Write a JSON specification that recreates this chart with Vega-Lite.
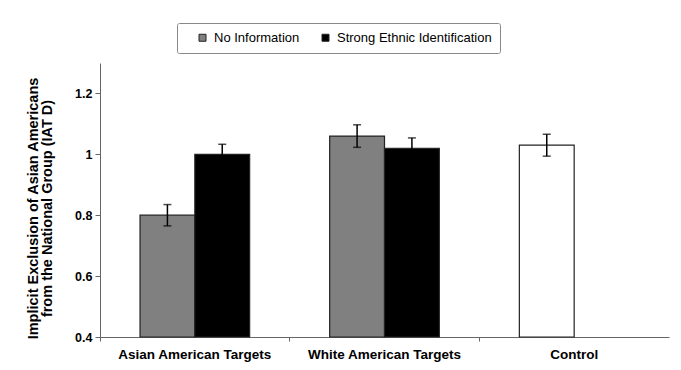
{
  "$schema": "https://vega.github.io/schema/vega-lite/v6.json",
  "autosize": {"type": "none"},
  "padding": {"left": 100, "top": 63, "right": 12, "bottom": 33},
  "width": 569,
  "height": 274,
  "background": "white",
  "config": {"view": {"stroke": null}, "font": "Liberation Sans"},
  "data": {
    "values": [
      {"target": "Asian American Targets", "condition": "No Information", "mean": 0.80, "lo": 0.765, "hi": 0.835},
      {"target": "Asian American Targets", "condition": "Strong Ethnic Identification", "mean": 1.00, "lo": 0.967, "hi": 1.033},
      {"target": "White American Targets", "condition": "No Information", "mean": 1.06, "lo": 1.023, "hi": 1.097},
      {"target": "White American Targets", "condition": "Strong Ethnic Identification", "mean": 1.02, "lo": 0.986, "hi": 1.054},
      {"target": "Control", "condition": "No Information", "mean": 1.03, "lo": 0.994, "hi": 1.066}
    ]
  },
  "encoding": {
    "x": {
      "field": "target",
      "type": "nominal",
      "sort": ["Asian American Targets", "White American Targets", "Control"],
      "scale": {"paddingInner": 0, "paddingOuter": 0},
      "axis": {
        "title": null,
        "labelAngle": 0,
        "labelFontWeight": "bold",
        "labelFontSize": 13.5,
        "labelColor": "#000",
        "labelPadding": 6,
        "tickSize": 4,
        "bandPosition": 0,
        "domainColor": "#666",
        "tickColor": "#666"
      }
    },
    "xOffset": {
      "field": "condition",
      "type": "nominal",
      "scale": {
        "domain": ["No Information", "Strong Ethnic Identification"],
        "paddingInner": 0,
        "paddingOuter": 0.73
      }
    }
  },
  "layer": [
    {
      "mark": {"type": "bar", "stroke": "#222", "strokeWidth": 1.2},
      "encoding": {
        "y": {
          "field": "mean",
          "type": "quantitative",
          "scale": {"domain": [0.4, 1.3], "nice": false, "zero": false},
          "axis": {
            "values": [0.4, 0.6, 0.8, 1, 1.2],
            "format": "~g",
            "grid": false,
            "labelFontWeight": "bold",
            "labelFontSize": 12.5,
            "labelColor": "#000",
            "labelPadding": 3,
            "tickSize": 5,
            "tickColor": "#666",
            "domainColor": "#666",
            "title": ["Implicit Exclusion of Asian Americans", "from the National Group (IAT D)"],
            "titleFontSize": 14.5,
            "titleFontWeight": "bold",
            "titleColor": "#000",
            "titleLineHeight": 14.5,
            "titleAngle": -90,
            "titleBaseline": "middle",
            "titleAlign": "center",
            "titleX": -67,
            "titleY": 145
          }
        },
        "y2": {"datum": 0.4},
        "color": {
          "condition": {"test": "datum.target === 'Control'", "value": "white"},
          "field": "condition",
          "type": "nominal",
          "scale": {
            "domain": ["No Information", "Strong Ethnic Identification"],
            "range": ["#808080", "#000000"]
          },
          "legend": {
            "orient": "none",
            "legendX": 77,
            "legendY": -40,
            "direction": "horizontal",
            "title": null,
            "symbolType": "square",
            "symbolSize": 49,
            "symbolStrokeColor": "#222",
            "symbolStrokeWidth": 1,
            "symbolOffset": 11,
            "labelFontSize": 13,
            "labelColor": "#000",
            "labelOffset": 5,
            "columnPadding": 8,
            "padding": 8,
            "strokeColor": "#888",
            "fillColor": "white",
            "cornerRadius": 2
          }
        }
      }
    },
    {
      "mark": {"type": "rule", "color": "#000", "strokeWidth": 1.5},
      "encoding": {
        "y": {"field": "lo", "type": "quantitative"},
        "y2": {"field": "hi"}
      }
    },
    {
      "mark": {"type": "tick", "color": "#000", "size": 8, "thickness": 1.5},
      "encoding": {"y": {"field": "lo", "type": "quantitative"}}
    },
    {
      "mark": {"type": "tick", "color": "#000", "size": 8, "thickness": 1.5},
      "encoding": {"y": {"field": "hi", "type": "quantitative"}}
    }
  ]
}
